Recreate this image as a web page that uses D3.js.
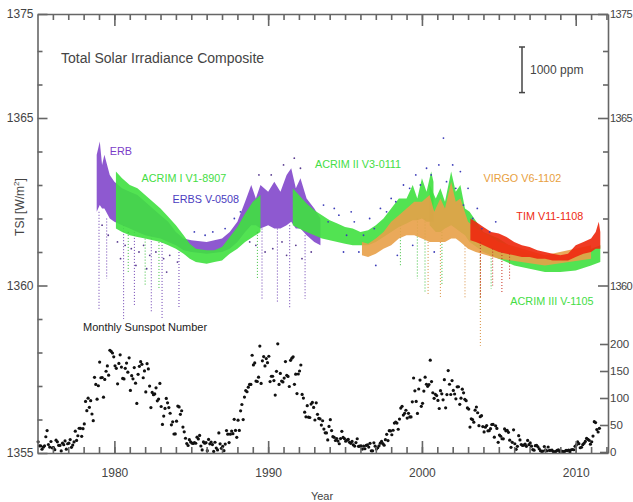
<!DOCTYPE html>
<html><head><meta charset="utf-8">
<script src="https://cdn.jsdelivr.net/npm/d3@7"></script>
<style>
html,body{margin:0;padding:0;background:#fff;}
svg{display:block;font-family:"Liberation Sans",Arial,sans-serif;}
</style></head>
<body>
<svg id="c" width="633" height="502"></svg>
<script>
// ---------- DATA ----------
const yearTicksMajor = [1980, 1990, 2000, 2010];
const yearTicksMinor = d3.range(1976, 2013);
const tsiLabelTicks = [1355, 1360, 1365, 1375];
const tsiMinorTicks = [1356, 1357, 1358, 1359, 1361, 1362, 1363, 1364, 1366, 1367];
const tsiRightTicks = [1360, 1365, 1375];
const tsiRightMinor = [1361, 1362, 1363, 1364, 1366, 1367];
const ssnTicks = [0, 50, 100, 150, 200];

// series bands: [year, low, high] in W/m2
const erbBand = [[1978.85,1362.2,1363.9],[1979.05,1362.4,1364.3],[1979.2,1362.3,1363.6],[1979.35,1362.3,1363.9],[1979.7,1362.0,1363.3],[1980.0,1361.9,1363.1],[1980.5,1361.8,1362.9],[1981.0,1361.7,1362.8],[1981.5,1361.6,1362.7],[1982.0,1361.5,1362.5],[1982.5,1361.45,1362.3],[1983.0,1361.4,1362.1],[1983.5,1361.3,1361.9],[1984.0,1361.2,1361.6],[1984.5,1361.05,1361.4],[1985.0,1361.0,1361.35],[1986.0,1360.95,1361.3],[1987.0,1361.0,1361.4],[1987.5,1361.1,1361.6],[1988.0,1361.3,1361.9],[1988.5,1361.6,1362.5],[1988.9,1361.8,1363.0],[1989.2,1361.8,1362.6],[1989.5,1361.7,1363.0],[1990.0,1361.8,1362.8],[1990.4,1361.7,1363.1],[1990.8,1361.7,1362.8],[1991.2,1361.8,1363.3],[1991.5,1361.9,1363.5],[1991.8,1361.7,1362.9],[1992.1,1361.7,1363.2],[1992.5,1361.5,1362.6],[1993.0,1361.3,1362.3],[1993.4,1361.2,1362.0]];
const acrim1Band = [[1980.1,1361.7,1363.4],[1980.5,1361.6,1363.2],[1981.0,1361.5,1363.0],[1981.5,1361.45,1362.9],[1982.0,1361.4,1362.7],[1982.5,1361.35,1362.5],[1983.0,1361.3,1362.3],[1983.5,1361.2,1362.05],[1984.0,1361.1,1361.8],[1984.5,1360.95,1361.5],[1984.9,1360.8,1361.25],[1985.3,1360.7,1361.1],[1986.0,1360.65,1361.05],[1986.5,1360.7,1361.05],[1987.0,1360.75,1361.15],[1987.5,1360.95,1361.45],[1988.0,1361.1,1361.75],[1988.5,1361.3,1362.15],[1989.0,1361.45,1362.5],[1989.5,1361.6,1362.7]];
const acrim2Band = [[1991.6,1361.8,1362.9],[1992.0,1361.7,1362.7],[1992.5,1361.6,1362.45],[1993.0,1361.5,1362.25],[1993.5,1361.4,1362.1],[1994.0,1361.35,1361.95],[1994.5,1361.3,1361.85],[1995.0,1361.25,1361.75],[1995.5,1361.2,1361.7],[1996.0,1361.2,1361.6],[1996.5,1361.2,1361.65],[1997.0,1361.3,1361.8],[1997.5,1361.45,1362.0],[1998.0,1361.6,1362.3],[1998.5,1361.75,1362.6],[1999.0,1361.85,1362.6],[1999.4,1361.95,1363.0],[1999.7,1361.95,1362.6],[2000.0,1362.0,1363.2],[2000.3,1361.9,1362.8],[2000.6,1361.9,1363.4],[2000.75,1361.9,1363.1]];
const acrim3Band = [[2000.5,1361.8,1363.0],[2000.9,1361.6,1362.6],[2001.2,1361.6,1362.9],[2001.5,1361.7,1362.5],[2001.9,1361.8,1363.4],[2002.2,1361.7,1362.8],[2002.5,1361.6,1363.0],[2002.8,1361.5,1362.3],[2003.1,1361.3,1362.2],[2004.0,1361.0,1361.6],[2005.0,1360.8,1361.4],[2006.0,1360.6,1361.1],[2007.0,1360.5,1360.95],[2008.0,1360.4,1360.8],[2009.0,1360.4,1360.75],[2010.0,1360.45,1360.85],[2011.0,1360.6,1361.1],[2011.6,1360.7,1361.2]];
const virgoBand = [[1996.1,1360.9,1361.3],[1996.5,1360.85,1361.25],[1997.0,1360.95,1361.4],[1997.5,1361.1,1361.6],[1998.0,1361.2,1361.9],[1998.5,1361.4,1362.1],[1999.0,1361.5,1362.3],[1999.5,1361.5,1362.5],[2000.0,1361.4,1362.5],[2000.5,1361.3,1362.7],[2000.8,1361.3,1362.2],[2001.2,1361.3,1362.6],[2001.5,1361.3,1362.3],[2001.9,1361.4,1363.1],[2002.2,1361.4,1362.5],[2002.5,1361.3,1362.6],[2003.0,1361.1,1361.9],[2003.5,1361.0,1361.7],[2005.0,1360.8,1361.3],[2008.0,1360.6,1360.9],[2011.0,1360.8,1361.2]];
const timBand = [[2003.15,1361.35,1362.0],[2003.5,1361.3,1361.9],[2004.0,1361.2,1361.75],[2004.5,1361.1,1361.6],[2005.0,1361.0,1361.55],[2005.5,1360.95,1361.45],[2006.0,1360.9,1361.3],[2006.5,1360.85,1361.2],[2007.0,1360.85,1361.15],[2007.5,1360.8,1361.05],[2008.0,1360.8,1361.0],[2008.5,1360.75,1360.95],[2009.0,1360.75,1360.9],[2009.5,1360.75,1360.95],[2010.0,1360.85,1361.2],[2010.5,1360.95,1361.3],[2011.0,1361.0,1361.4],[2011.3,1361.1,1361.6],[2011.5,1361.1,1361.9],[2011.6,1361.1,1361.6]];

// dips: [year, top, bottom]
const erbDips = [[1979.0,1362.2,1359.3],[1979.5,1362.0,1360.2],[1980.6,1361.8,1359.0],[1981.3,1361.6,1359.4],[1982.4,1361.5,1359.2],[1983.1,1361.3,1359.0],[1984.2,1361.0,1359.3],[1989.6,1361.7,1359.6],[1990.6,1361.7,1359.5],[1991.4,1361.8,1359.3],[1992.4,1361.5,1359.6]];
const acrimDips = [[1980.9,1361.6,1360.4],[1982.0,1361.4,1360.0],[1982.9,1361.3,1359.9],[1989.3,1361.6,1360.2],[1998.6,1361.8,1360.6],[1999.7,1362.0,1360.2],[2000.2,1362.0,1359.8],[2001.3,1361.6,1360.0],[2003.8,1361.0,1359.2],[2004.5,1360.9,1359.9]];
const virgoDips = [[2000.4,1361.3,1359.7],[2001.2,1361.3,1359.6],[2003.8,1361.0,1358.2],[2002.8,1361.2,1359.6]];
const timDips = [[2003.8,1361.3,1359.6],[2004.6,1361.1,1360.0],[2005.2,1361.0,1359.8],[2005.7,1360.95,1360.2]];

// scattered points [year, value]
const erbPts = [[1979.2,1361.8],[1979.6,1361.5],[1980.2,1361.3],[1980.7,1361.2],[1981.1,1361.1],[1981.6,1361.0],[1981.9,1361.2],[1982.3,1360.9],[1982.7,1361.0],[1983.2,1360.8],[1983.6,1360.9],[1984.1,1360.7],[1980.4,1360.8],[1981.4,1360.6],[1982.1,1360.5],[1983.4,1360.4],[1988.8,1361.3],[1989.2,1361.2],[1989.8,1361.0],[1990.3,1361.1],[1990.9,1361.3],[1991.2,1360.9],[1991.8,1361.2],[1992.2,1360.8],[1992.8,1361.0],[1989.4,1363.3],[1990.2,1363.3],[1991.0,1363.6],[1991.7,1363.8],[1992.1,1363.5]];
const erbsPts = [[1985.2,1361.6],[1985.9,1361.5],[1986.4,1361.6],[1987.2,1361.7],[1987.8,1362.0],[1988.2,1362.2],[1993.6,1362.4],[1993.9,1361.9],[1994.3,1362.3],[1994.6,1362.1],[1994.9,1361.0],[1995.1,1361.5],[1995.4,1362.2],[1995.6,1361.9],[1995.9,1361.0],[1996.2,1361.5],[1996.6,1362.0],[1996.9,1361.7],[1997.3,1362.3],[1997.7,1362.2],[1998.0,1362.6],[1998.3,1362.5],[1998.8,1363.0],[1999.2,1362.9],[1999.6,1363.3],[1999.9,1363.0],[2000.3,1363.5],[2000.6,1363.3],[2001.1,1363.6],[2001.4,1364.4],[2001.6,1363.1],[2002.0,1363.6],[2002.2,1362.9],[2002.5,1363.4],[2002.7,1362.4],[2003.0,1362.9],[2003.3,1362.0],[2003.6,1362.3],[2003.9,1361.7],[2004.4,1361.6],[2004.8,1361.9],[1997.0,1360.6],[1998.4,1360.9],[1999.4,1361.2],[2000.8,1361.0]];

// monthly sunspot number 1975-01 .. 2011-07
const ssn = [
18.9,11.5,11.5,5.1,9.0,11.4,28.2,39.7,13.9,9.1,19.4,7.8,
8.1,4.3,21.9,18.8,12.4,12.2,1.9,16.4,13.5,20.6,5.2,15.3,
16.4,23.1,8.7,12.9,18.6,38.5,21.4,30.1,44.0,43.8,29.1,43.2,
51.9,93.6,76.5,99.7,82.7,95.1,70.4,58.1,138.2,125.1,97.9,122.7,
166.6,137.5,138.0,101.5,134.4,149.5,159.4,142.2,188.4,186.2,183.3,176.3,
159.6,155.0,126.2,164.1,179.9,157.3,136.3,135.4,155.0,164.7,147.9,174.4,
114.0,141.3,135.5,156.4,127.5,90.0,143.8,158.7,167.3,162.4,137.5,150.1,
111.2,163.6,153.8,122.0,82.2,110.4,106.1,107.6,118.8,94.7,98.1,127.0,
84.3,51.0,66.5,80.7,99.2,91.1,82.2,71.8,50.3,55.8,33.3,33.4,
57.0,85.1,83.5,69.7,76.4,46.1,37.4,25.5,15.7,12.0,22.8,18.7,
16.5,15.9,17.2,16.2,27.5,24.2,30.7,11.1,3.9,18.6,16.2,17.3,
2.5,23.2,15.1,18.5,13.7,1.1,18.1,7.4,3.8,35.4,15.2,6.8,
10.4,2.4,14.7,39.6,33.0,17.4,33.0,38.7,33.9,60.6,39.9,27.1,
59.0,40.0,76.2,88.0,60.1,101.8,113.8,111.6,120.1,125.1,125.1,179.2,
161.3,165.0,131.4,130.6,138.5,196.2,126.9,168.9,176.7,159.4,173.0,165.5,
177.3,130.5,140.3,140.3,132.2,105.4,149.4,200.3,125.2,145.5,131.4,129.7,
136.9,167.5,141.9,140.0,121.3,169.7,173.7,176.3,125.3,144.1,108.2,144.4,
150.0,161.1,106.7,99.8,73.8,65.2,85.7,64.5,63.9,88.7,91.8,82.6,
59.3,91.0,69.8,62.2,61.3,49.8,57.9,42.4,35.5,35.3,22.4,47.3,
59.9,39.6,28.4,27.2,21.3,25.0,20.2,15.3,24.9,38.2,26.9,24.9,
20.1,21.9,23.3,17.9,16.1,19.6,13.1,10.9,17.4,24.5,10.6,10.7,
11.2,5.5,11.0,6.0,12.2,13.2,9.1,16.1,2.1,2.1,17.0,10.8,
5.7,7.9,11.4,16.3,19.6,15.6,12.7,22.9,32.8,21.1,39.5,39.0,
31.9,40.3,53.6,55.3,53.6,42.1,60.9,81.3,84.6,68.4,71.6,77.3,
62.8,71.6,64.9,64.9,93.0,137.0,113.3,93.7,71.5,116.7,133.2,84.6,
90.1,112.9,138.5,125.5,121.6,124.9,170.1,130.5,109.7,99.4,106.8,104.4,
95.6,80.6,113.5,107.7,96.6,134.0,81.8,106.4,150.7,125.5,106.5,132.2,
114.1,107.4,98.4,120.7,120.8,88.3,99.6,116.4,109.6,97.5,95.0,81.6,
79.5,46.2,61.5,60.0,55.2,77.4,83.3,72.7,48.7,65.5,67.3,47.0,
37.2,46.0,48.9,39.3,39.5,43.2,50.9,51.0,27.4,48.4,43.7,17.9,
31.3,29.2,24.5,24.4,42.7,39.3,40.1,36.4,21.9,8.7,18.0,41.1,
15.3,4.9,10.6,30.2,22.3,13.9,12.2,12.9,14.4,10.5,21.4,13.6,
16.8,10.7,4.5,3.4,11.7,12.1,9.7,6.0,2.4,0.9,1.7,10.1,
3.3,2.1,9.3,2.9,3.2,3.4,0.8,0.5,1.1,2.9,4.1,0.8,
1.5,1.4,0.7,1.2,2.9,2.6,3.5,0.0,4.2,4.6,4.2,10.6,
13.1,18.6,15.4,7.9,8.8,13.5,16.1,19.6,25.2,23.5,21.6,14.5,
19.0,29.4,56.2,54.4,41.6,37.0,43.9
];
const ssnStartYear = 1975;

const labels = [
  {t:"ERB", year:1979.7, v:1363.9, c:"#7a3cc8"},
  {t:"ACRIM I V1-8907", year:1981.77, v:1363.09, c:"#44dd44"},
  {t:"ERBS V-0508", year:1983.78, v:1362.46, c:"#4a3cc0"},
  {t:"ACRIM II V3-0111", year:1993.05, v:1363.51, c:"#44dd44"},
  {t:"VIRGO V6-1102", year:2004.0, v:1363.09, c:"#e8a040"},
  {t:"TIM V11-1108", year:2006.14, v:1361.96, c:"#ee2a10"},
  {t:"ACRIM III V-1105", year:2005.75, v:1359.42, c:"#44dd44"}
];

// ---------- CHART ----------
const svg = d3.select("#c");
const x = d3.scaleLinear().domain([1975, 2012.1]).range([37.5, 608]);
const y = d3.scaleLinear().domain([1355, 1367, 1375]).range([453, 51, 14]);
const ys = d3.scaleLinear().domain([0, 200]).range([452, 344]);
const axisCol = "#666", textCol = "#444";

const area = d3.area().x(d => x(d[0])).y0(d => y(d[1])).y1(d => y(d[2]));
function band(data, col, op) {
  svg.append("path").datum(data).attr("d", area).attr("fill", col).attr("fill-opacity", op);
}
function dips(data, col) {
  svg.append("g").selectAll("line").data(data).join("line")
    .attr("x1", d => x(d[0])).attr("x2", d => x(d[0]))
    .attr("y1", d => y(d[1])).attr("y2", d => y(d[2]))
    .attr("stroke", col).attr("stroke-width", 1).attr("stroke-dasharray", "1,2");
}
function pts(data, col) {
  svg.append("g").selectAll("circle").data(data).join("circle")
    .attr("cx", d => x(d[0])).attr("cy", d => y(d[1])).attr("r", 0.9).attr("fill", col);
}
band(erbBand, "#7a3cc8", 0.85);
dips(erbDips, "#6a3cb0");
pts(erbPts, "#5a3c90");
band(acrim1Band, "#3fe03f", 0.9);
band(acrim2Band, "#3fe03f", 0.9);
band(acrim3Band, "#3fe03f", 0.9);
dips(acrimDips, "#3cc03c");
band(virgoBand, "#e8a048", 0.9);
dips(virgoDips, "#d89040");
band(timBand, "#ee2a10", 0.92);
dips(timDips, "#c83020");
pts(erbsPts, "#3c3cb8");

// sunspots
svg.append("g").selectAll("circle").data(ssn).join("circle")
  .attr("cx", (d, i) => x(ssnStartYear + (i + 0.5) / 12)).attr("cy", d => ys(d))
  .attr("r", 1.6).attr("fill", "#111");

// axes
const gAx = svg.append("g");
function styleAxis(g) { g.selectAll("path,line").attr("stroke", axisCol).attr("stroke-width", 1.6); g.selectAll("text").attr("fill", textCol).attr("font-size", 12); }
// bottom
gAx.append("g").attr("transform", "translate(0,453)")
  .call(d3.axisBottom(x).tickValues(yearTicksMinor).tickSizeInner(-6).tickSizeOuter(0).tickFormat(""))
  .call(styleAxis);
gAx.append("g").attr("transform", "translate(0,453)")
  .call(d3.axisBottom(x).tickValues(yearTicksMajor).tickSizeInner(-12).tickSizeOuter(0).tickPadding(15).tickFormat(d3.format("d")))
  .call(styleAxis).call(g => g.select(".domain").remove());
// top
gAx.append("g").attr("transform", "translate(0,14)")
  .call(d3.axisTop(x).tickValues(yearTicksMinor).tickSizeInner(-6).tickSizeOuter(0).tickFormat(""))
  .call(styleAxis);
gAx.append("g").attr("transform", "translate(0,14)")
  .call(d3.axisTop(x).tickValues(yearTicksMajor).tickSizeInner(-12).tickSizeOuter(0).tickFormat(""))
  .call(styleAxis).call(g => g.select(".domain").remove());
// left
gAx.append("g").attr("transform", "translate(37.5,0)")
  .call(d3.axisLeft(y).tickValues(tsiMinorTicks).tickSizeInner(-5).tickSizeOuter(0).tickFormat(""))
  .call(styleAxis);
gAx.append("g").attr("transform", "translate(37.5,0)")
  .call(d3.axisLeft(y).tickValues(tsiLabelTicks).tickSizeInner(-10).tickSizeOuter(0).tickPadding(4).tickFormat(d3.format("d")))
  .call(styleAxis).call(g => g.select(".domain").remove());
// right
gAx.append("g").attr("transform", "translate(608,0)")
  .call(d3.axisRight(y).tickValues(tsiRightMinor).tickSizeInner(-5).tickSizeOuter(0).tickFormat(""))
  .call(styleAxis);
gAx.append("g").attr("transform", "translate(608,0)")
  .call(d3.axisRight(y).tickValues(tsiRightTicks).tickSizeInner(-10).tickSizeOuter(0).tickPadding(2).tickFormat(d3.format("d")))
  .call(styleAxis).call(g => g.select(".domain").remove())
  .call(g => g.selectAll("text").attr("font-size", 11).attr("letter-spacing", "-0.6px"));
gAx.append("g").attr("transform", "translate(608,0)")
  .call(d3.axisRight(ys).tickValues(ssnTicks).tickSizeInner(-8).tickSizeOuter(0).tickPadding(2))
  .call(styleAxis).call(g => g.select(".domain").remove())
  .call(g => g.selectAll("text").attr("font-size", 11.5));

// titles
svg.append("text").attr("x", 61).attr("y", 63).attr("font-size", 14).attr("fill", textCol)
  .text("Total Solar Irradiance Composite");
svg.append("text").attr("x", 83).attr("y", 331).attr("font-size", 11).attr("fill", "#222")
  .text("Monthly Sunspot Number");
svg.append("text").attr("x", 322).attr("y", 500).attr("font-size", 11).attr("fill", textCol).attr("text-anchor", "middle").text("Year");
svg.append("text").attr("transform", "translate(24,207) rotate(-90)").attr("text-anchor", "middle")
  .attr("font-size", 12).attr("fill", textCol).html("TSI  [W/m<tspan dy='-5' font-size='8'>2</tspan><tspan dy='5'>]</tspan>");

// 1000 ppm scale bar
const ppmLen = y(1360) - y(1360 + 1.361);
const bx = 522, bTop = 47;
const gb = svg.append("g").attr("stroke", "#444").attr("stroke-width", 1.5);
gb.append("line").attr("x1", bx).attr("x2", bx).attr("y1", bTop).attr("y2", bTop + ppmLen);
gb.append("line").attr("x1", bx - 3).attr("x2", bx + 3).attr("y1", bTop).attr("y2", bTop);
gb.append("line").attr("x1", bx - 3).attr("x2", bx + 3).attr("y1", bTop + ppmLen).attr("y2", bTop + ppmLen);
svg.append("text").attr("x", 530).attr("y", 74).attr("font-size", 12).attr("fill", textCol).text("1000 ppm");

// series labels
svg.append("g").selectAll("text").data(labels).join("text")
  .attr("x", d => x(d.year)).attr("y", d => y(d.v)).attr("fill", d => d.c)
  .attr("font-size", 10.8).text(d => d.t);
</script>
</body></html>
